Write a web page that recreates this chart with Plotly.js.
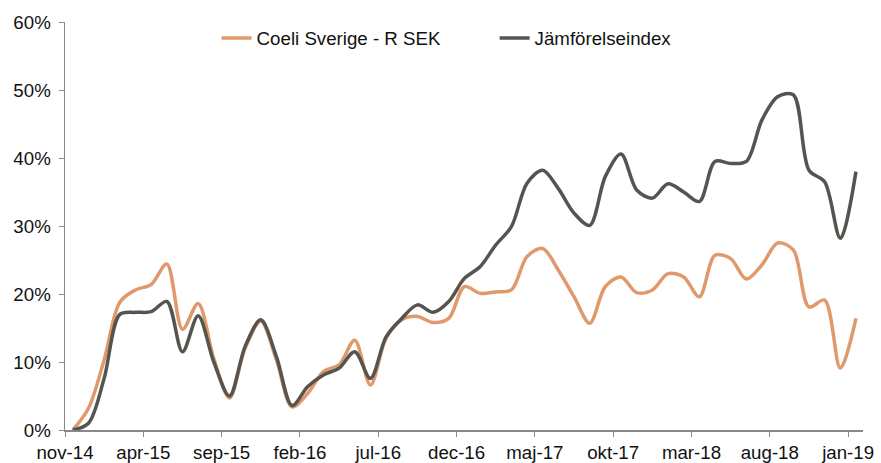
<!DOCTYPE html>
<html>
<head>
<meta charset="utf-8">
<script src="https://cdn.plot.ly/plotly-3.0.1.min.js"></script>
<style>html,body{margin:0;padding:0;background:#fff}#chart{width:881px;height:463px}</style>
</head>
<body>
<div id="chart"></div>
<script>
// Monthly labels (nov-14 .. jan-19)
const monthLabels = ["nov-14","dec-14","jan-15","feb-15","mar-15","apr-15","maj-15","jun-15","jul-15","aug-15",
  "sep-15","okt-15","nov-15","dec-15","jan-16","feb-16","mar-16","apr-16","maj-16","jun-16",
  "jul-16","aug-16","sep-16","okt-16","nov-16","dec-16","jan-17","feb-17","mar-17","apr-17",
  "maj-17","jun-17","jul-17","aug-17","sep-17","okt-17","nov-17","dec-17","jan-18","feb-18",
  "mar-18","apr-18","maj-18","jun-18","jul-18","aug-18","sep-18","okt-18","nov-18","dec-18","jan-19"];

// Cumulative return, %
const coeli = [0.0, 3.2, 10.3, 18.8, 20.6, 21.4, 24.4, 14.8, 18.6, 10.5,
  4.7, 12.0, 16.0, 10.3, 3.4, 5.4, 8.6, 9.6, 13.2, 6.6,
  13.5, 16.2, 16.7, 15.8, 16.4, 21.1, 20.1, 20.3, 20.6, 25.5,
  26.7, 23.5, 19.6, 15.7, 21.1, 22.5, 20.2, 20.6, 23.0, 22.5,
  19.6, 25.7, 25.2, 22.2, 24.3, 27.5, 26.5, 18.1, 19.1, 9.1, 16.4];

const index = [0.0, 1.0, 7.6, 17.0, 17.3, 17.4, 18.9, 11.5, 16.8, 10.0,
  5.0, 12.3, 16.2, 10.8, 3.6, 6.4, 8.1, 9.1, 11.5, 7.6,
  13.7, 16.4, 18.4, 17.3, 18.9, 22.3, 24.0, 27.2, 29.9, 36.3,
  38.2, 35.5, 31.9, 30.1, 37.3, 40.6, 35.3, 34.1, 36.2, 35.0,
  33.6, 39.5, 39.2, 39.5, 45.6, 49.0, 49.3, 38.2, 36.5, 28.2, 38.0];

const seriesNames = ["Coeli Sverige - R SEK", "Jämförelseindex"];
const tickStep = 5;

const xPos = monthLabels.map((_, i) => i + 0.5);
const tickVals = [], tickText = [];
for (let i = 0; i < monthLabels.length; i += tickStep) { tickVals.push(i); tickText.push(monthLabels[i]); }

const font = {family: "Liberation Sans, Arial, sans-serif", size: 18.7, color: "#111"};

const traces = [
  {x: xPos, y: coeli.map(v => v / 100), name: seriesNames[0], type: "scatter", mode: "lines",
   line: {color: "#E0996B", width: 3.5, shape: "spline", smoothing: 0.9}},
  {x: xPos, y: index.map(v => v / 100), name: seriesNames[1], type: "scatter", mode: "lines",
   line: {color: "#55544F", width: 3.5, shape: "spline", smoothing: 0.9}}
];

const layout = {
  width: 881, height: 463,
  margin: {l: 65, r: 18, t: 22, b: 33},
  paper_bgcolor: "#fff", plot_bgcolor: "#fff",
  font: font,
  showlegend: true,
  legend: {orientation: "h", x: 0.19, xanchor: "left", y: 0.96, yanchor: "middle",
    font: font, bgcolor: "rgba(0,0,0,0)", entrywidth: 233, entrywidthmode: "pixels"},
  xaxis: {range: [0, 50.95], tickvals: tickVals, ticktext: tickText, showgrid: false, zeroline: false,
    showline: true, linecolor: "#888", linewidth: 1.5, ticks: "outside", ticklen: 5, tickcolor: "#888",
    tickfont: font, fixedrange: true},
  yaxis: {range: [0, 0.6], dtick: 0.1, tickformat: ".0%", showgrid: false, zeroline: false,
    showline: true, linecolor: "#888", linewidth: 1.5, ticks: "outside", ticklen: 5, tickcolor: "#888",
    tickfont: font, ticklabelstandoff: 4, fixedrange: true}
};

Plotly.newPlot("chart", traces, layout, {displayModeBar: false, staticPlot: true});
</script>
</body>
</html>
